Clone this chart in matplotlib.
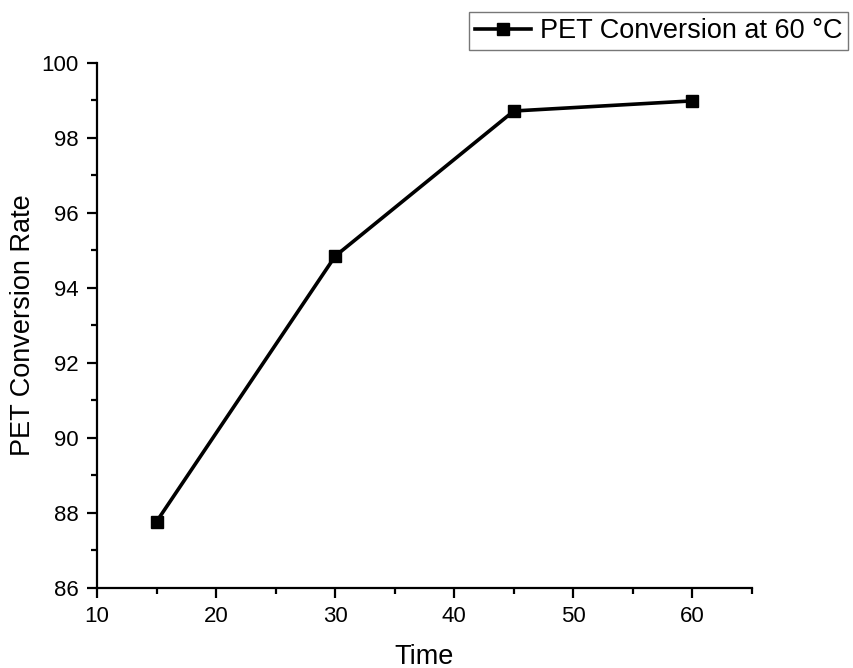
import matplotlib
matplotlib.use("Agg")
import matplotlib.pyplot as plt
from matplotlib.ticker import MultipleLocator

# PET conversion vs reaction time
time_min = [15, 30, 45, 60]
conversion = [87.77, 94.85, 98.72, 98.99]
series_label = "PET Conversion at 60 °C"

plt.rcParams["font.family"] = ["Liberation Sans", "DejaVu Sans"]

fig = plt.figure(figsize=(8.54, 6.68), dpi=100)
ax = fig.add_axes([0.1136, 0.1198, 0.767, 0.7859])

ax.plot(time_min, conversion, color="black", linewidth=2.6,
        marker="s", markersize=9, label=series_label)

ax.set_xlim(10, 65)
ax.set_ylim(86, 100)
ax.xaxis.set_major_locator(MultipleLocator(10))
ax.xaxis.set_minor_locator(MultipleLocator(5))
ax.yaxis.set_major_locator(MultipleLocator(2))
ax.yaxis.set_minor_locator(MultipleLocator(1))

for side in ["top", "right"]:
    ax.spines[side].set_visible(False)
for side in ["left", "bottom"]:
    ax.spines[side].set_linewidth(1.6)

ax.tick_params(which="major", direction="out", length=7, width=1.6, labelsize=16, pad=6)
ax.tick_params(which="minor", direction="out", length=4, width=1.6)

ax.set_xlabel("Time", fontsize=19.5, labelpad=12)
ax.set_ylabel("PET Conversion Rate", fontsize=19.5, labelpad=4)

leg = fig.legend(loc="upper right", bbox_to_anchor=(0.993, 0.982), fontsize=19.5,
                 frameon=True, fancybox=False, handlelength=2.1,
                 borderpad=0.22, handletextpad=0.3, borderaxespad=0)
leg.get_frame().set_edgecolor("#555555")
leg.get_frame().set_linewidth(1.0)

fig.savefig("out.png", dpi=100)
